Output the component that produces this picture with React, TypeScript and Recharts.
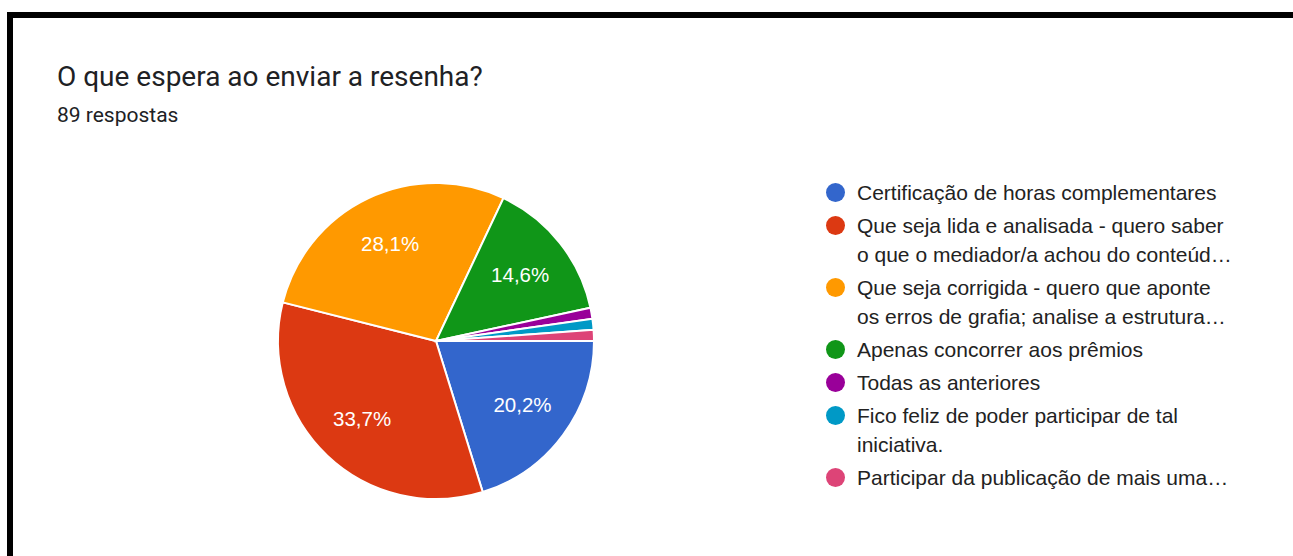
import React from 'react';
import { PieChart, Pie, Cell, Legend } from 'recharts';

const categories = [
  'Certificação de horas complementares',
  'Que seja lida e analisada - quero saber\no que o mediador/a achou do conteúd…',
  'Que seja corrigida - quero que aponte\nos erros de grafia; analise a estrutura…',
  'Apenas concorrer aos prêmios',
  'Todas as anteriores',
  'Fico feliz de poder participar de tal\niniciativa.',
  'Participar da publicação de mais uma…',
];
const responses = [18, 30, 25, 13, 1, 1, 1];
const colors = ['#3366cc', '#dc3912', '#ff9900', '#109618', '#990099', '#0099c6', '#dd4477'];
const title = 'O que espera ao enviar a resenha?';
const subtitle = '89 respostas';

const data = categories.map((name, i) => ({ name, value: responses[i], color: colors[i] }));
const RADIAN = Math.PI / 180;

const renderLabel = (props: any) => {
  const { cx, cy, midAngle, outerRadius, percent } = props;
  if (percent < 0.05) return null;
  const r = outerRadius * 0.68;
  const x = cx + r * Math.cos(-midAngle * RADIAN);
  const y = cy + r * Math.sin(-midAngle * RADIAN);
  return (
    <text
      x={x}
      y={y}
      fill="#ffffff"
      textAnchor="middle"
      dominantBaseline="central"
      style={{ fontFamily: 'Arial, "Liberation Sans", sans-serif', fontSize: 20.5 }}
    >
      {(percent * 100).toFixed(1).replace('.', ',') + '%'}
    </text>
  );
};

const renderLegend = () => {
  return (
    <div style={{ fontFamily: 'Arial, "Liberation Sans", sans-serif', fontSize: 21, color: '#222222' }}>
      {data.map((entry, i) => (
        <div key={i} style={{ display: 'flex', alignItems: 'flex-start', marginBottom: 4 }}>
          <div
            style={{
              width: 19,
              height: 19,
              borderRadius: '50%',
              background: entry.color,
              marginTop: 5,
              marginRight: 12,
              flexShrink: 0,
            }}
          />
          <div style={{ whiteSpace: 'pre', lineHeight: '29px' }}>{entry.name}</div>
        </div>
      ))}
    </div>
  );
};

export default function App() {
  return (
    <div style={{ position: 'absolute', left: 0, top: 0, width: 1293, height: 556, background: '#ffffff', overflow: 'hidden' }}>
      <div style={{ position: 'absolute', left: 7, top: 12, width: 1286, height: 6, background: '#000000' }} />
      <div style={{ position: 'absolute', left: 7, top: 12, width: 6, height: 544, background: '#000000' }} />
      <div
        style={{
          position: 'absolute',
          left: 57,
          top: 60,
          fontFamily: 'Roboto, sans-serif',
          fontSize: 28,
          color: '#202124',
          whiteSpace: 'nowrap',
        }}
      >
        {title}
      </div>
      <div
        style={{
          position: 'absolute',
          left: 57,
          top: 103,
          fontFamily: 'Roboto, sans-serif',
          fontSize: 21,
          color: '#202124',
          whiteSpace: 'nowrap',
        }}
      >
        {subtitle}
      </div>
      <div style={{ position: 'absolute', left: 0, top: 0 }}>
        <PieChart width={1293} height={556} margin={{ top: 0, right: 0, bottom: 0, left: 0 }}>
          <Pie
            data={data}
            dataKey="value"
            nameKey="name"
            cx={436}
            cy={341}
            outerRadius={158}
            startAngle={0}
            endAngle={-360}
            stroke="#ffffff"
            strokeWidth={2}
            label={renderLabel}
            labelLine={false}
            isAnimationActive={false}
          >
            {data.map((d, i) => (
              <Cell key={i} fill={d.color} />
            ))}
          </Pie>
          <Legend
            content={renderLegend}
            wrapperStyle={{ position: 'absolute', left: 826, top: 178, width: 450 }}
          />
        </PieChart>
      </div>
    </div>
  );
}
